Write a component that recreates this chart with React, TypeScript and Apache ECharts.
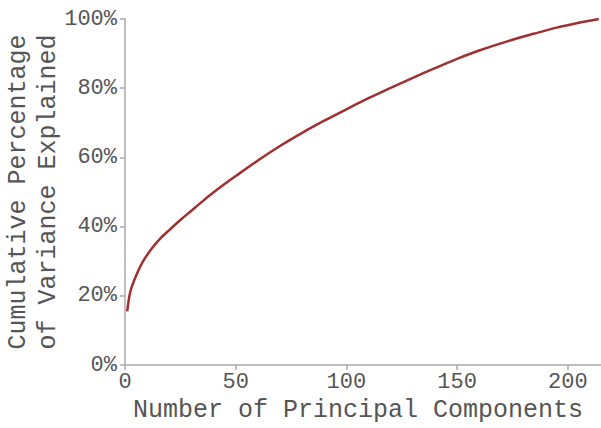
import React, { useEffect, useRef } from "react";
import * as echarts from "echarts";

// Number of principal components kept
const components = [1, 2, 3, 5, 8, 12, 16, 20, 25, 30, 35, 40, 45, 50, 60, 70, 80, 90, 100, 110, 120, 130, 140, 150, 160, 175, 185, 195, 205, 214];
// Cumulative share of variance explained (%)
const cumulativePct = [15.5, 20.0, 22.5, 25.8, 29.8, 33.6, 36.6, 39.0, 41.9, 44.6, 47.3, 49.9, 52.3, 54.6, 59.1, 63.3, 67.1, 70.6, 73.9, 77.1, 80.1, 83.0, 85.8, 88.5, 90.9, 94.0, 95.8, 97.5, 98.9, 100];

const xTicks = [0, 50, 100, 150, 200];
const yTicks = [0, 20, 40, 60, 80, 100];

const FONT = "'Liberation Mono', 'Courier New', monospace";
const TEXT = "#555555";
const AXIS = "#aaaaaa";

export default function App() {
  const ref = useRef<HTMLDivElement>(null);

  useEffect(() => {
    if (!ref.current) return;
    const chart = echarts.init(ref.current, undefined, { renderer: "svg" });
    chart.setOption({
      animation: false,
      backgroundColor: "#ffffff",
      grid: { left: 125, top: 19, right: 0, bottom: 63, containLabel: false, outerBoundsMode: "none" },
      xAxis: {
        type: "value",
        min: 0,
        max: 215,
        name: "Number of Principal Components",
        nameLocation: "middle",
        nameGap: 33,
        nameMoveOverlap: false,
        nameTextStyle: { fontFamily: FONT, fontSize: 25, color: TEXT, padding: [0, 10, 0, 0] },
        axisLine: { show: true, lineStyle: { color: AXIS, width: 1.5 } },
        axisTick: { show: true, length: 5, lineStyle: { color: AXIS, width: 1.5 }, customValues: xTicks },
        axisLabel: { fontFamily: FONT, fontSize: 22, color: TEXT, margin: 6, customValues: xTicks },
        splitLine: { show: false },
      },
      yAxis: {
        type: "value",
        min: 0,
        max: 100,
        interval: 20,
        name: "Cumulative Percentage\nof Variance Explained",
        nameLocation: "middle",
        nameRotate: 90,
        nameGap: 62,
        nameMoveOverlap: false,
        nameTextStyle: { fontFamily: FONT, fontSize: 25, color: TEXT, lineHeight: 30 },
        axisLine: { show: true, lineStyle: { color: AXIS, width: 1.5 } },
        axisTick: { show: true, length: 5, lineStyle: { color: AXIS, width: 1.5 }, customValues: yTicks },
        axisLabel: { fontFamily: FONT, fontSize: 22, color: TEXT, margin: 8, formatter: "{value}%" },
        splitLine: { show: false },
      },
      series: [
        {
          type: "line",
          data: components.map((c, i) => [c, cumulativePct[i]]),
          smooth: 0.3,
          showSymbol: false,
          symbol: "none",
          lineStyle: { color: "#a03030", width: 2.5 },
        },
      ],
    });
    return () => chart.dispose();
  }, []);

  return <div ref={ref} style={{ position: "fixed", left: 0, top: 0, width: 601, height: 428 }} />;
}
